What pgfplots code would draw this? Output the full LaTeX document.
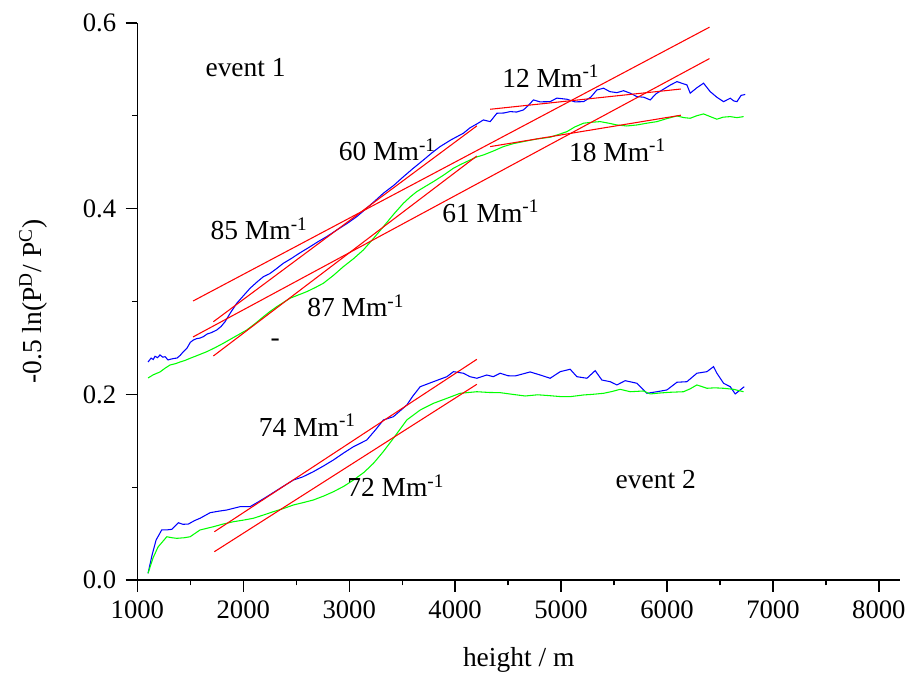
\documentclass[border=0pt]{standalone}
\usepackage{fontspec}
\setmainfont{Liberation Serif}
\usepackage{pgfplots}
\pgfplotsset{compat=1.18}
\definecolor{cblue}{RGB}{0,0,255}
\definecolor{cgreen}{RGB}{0,255,0}
\definecolor{cred}{RGB}{255,0,0}
\begin{document}
\begin{tikzpicture}
\begin{axis}[
  scale only axis,
  width=286.0pt, height=208.9pt,
  xmin=1000, xmax=8200, ymin=0, ymax=0.6,
  axis x line*=bottom, axis y line*=left,
  axis line style={line width=0.5pt},
  every tick/.style={black, line width=0.5pt},
  tick align=outside,
  major tick length=4.4pt, minor tick length=2pt,
  xtick={1000,2000,...,8000}, ytick={0,0.2,0.4,0.6},
  minor x tick num=1, minor y tick num=1,
  /pgf/number format/assume math mode=true,
  x tick label style={/pgf/number format/1000 sep={}},
  y tick label style={/pgf/number format/fixed, /pgf/number format/precision=1, /pgf/number format/fixed zerofill},
  tick label style={font=\fontsize{10}{12}\selectfont},
  label style={font=\fontsize{10.3}{12}\selectfont},
  xlabel={height / m},
  ylabel={-0.5 ln(P\textsuperscript{D}/ P\textsuperscript{C})},
  xlabel style={at={(axis description cs:0.5,-0.1436)}, anchor=center},
  ylabel style={at={(axis description cs:-0.1364,0.5)}, anchor=center},
  clip=false,
  every axis plot/.append style={line width=0.4pt},
]
% event 1 blue
\addplot[cblue] coordinates {
(1101,0.2348) (1130,0.2390) (1150,0.2375) (1167,0.2410) (1190,0.2395) (1214,0.2424)
(1240,0.2400) (1262,0.2405) (1290,0.2370) (1309,0.2377) (1340,0.2385) (1375,0.2391)
(1405,0.2420) (1434,0.2459) (1470,0.2500) (1500,0.2560) (1529,0.2585) (1560,0.2600)
(1590,0.2605) (1623,0.2621) (1660,0.2650) (1700,0.2665) (1750,0.2693) (1790,0.2730)
(1828,0.2782) (1880,0.2880) (1939,0.2981) (2000,0.3060) (2064,0.3142) (2130,0.3210)
(2190,0.3267) (2250,0.3300) (2310,0.3350) (2379,0.3412) (2450,0.3460) (2530,0.3520)
(2631,0.3590) (2700,0.3640) (2790,0.3700) (2883,0.3770) (2980,0.3840) (3072,0.3914)
(3150,0.3990) (3240,0.4080) (3323,0.4166) (3420,0.4250) (3512,0.4344) (3600,0.4430)
(3701,0.4524) (3780,0.4600) (3858,0.4668) (3960,0.4740) (4078,0.4812) (4140,0.4870)
(4205,0.4912) (4267,0.4955) (4331,0.4937) (4394,0.5027) (4460,0.5030) (4520,0.5045)
(4580,0.5040) (4645,0.5063) (4690,0.5110) (4739,0.5171) (4800,0.5150) (4897,0.5152)
(4960,0.5190) (5055,0.5178) (5130,0.5150) (5212,0.5152) (5280,0.5200) (5338,0.5278)
(5401,0.5297) (5460,0.5260) (5527,0.5249) (5590,0.5270) (5653,0.5243) (5716,0.5206)
(5780,0.5200) (5841,0.5171) (5900,0.5240) (5967,0.5286) (6030,0.5330) (6094,0.5368)
(6140,0.5350) (6188,0.5332) (6219,0.5243) (6280,0.5300) (6345,0.5351) (6380,0.5300)
(6408,0.5260) (6470,0.5200) (6534,0.5152) (6597,0.5189) (6630,0.5160) (6660,0.5152)
(6700,0.5220) (6723,0.5225) (6738,0.5230)
};
% event 1 green
\addplot[cgreen] coordinates {
(1101,0.2176) (1150,0.2210) (1214,0.2241) (1260,0.2280) (1309,0.2316) (1360,0.2330)
(1403,0.2348) (1450,0.2365) (1498,0.2388) (1570,0.2420) (1655,0.2459) (1730,0.2500)
(1812,0.2550) (1920,0.2620) (2033,0.2693) (2110,0.2760) (2190,0.2836) (2250,0.2890)
(2316,0.2944) (2380,0.2990) (2442,0.3035) (2520,0.3070) (2600,0.3106) (2680,0.3150)
(2756,0.3196) (2850,0.3280) (2945,0.3375) (3040,0.3460) (3134,0.3555) (3230,0.3680)
(3323,0.3806) (3420,0.3940) (3512,0.4058) (3580,0.4130) (3638,0.4183) (3720,0.4240)
(3795,0.4291) (3890,0.4360) (3984,0.4435) (4060,0.4480) (4142,0.4524) (4200,0.4555)
(4267,0.4578) (4360,0.4620) (4456,0.4668) (4550,0.4700) (4645,0.4722) (4770,0.4750)
(4897,0.4769) (4980,0.4800) (5055,0.4829) (5130,0.4880) (5212,0.4920) (5290,0.4930)
(5369,0.4937) (5450,0.4920) (5527,0.4901) (5620,0.4890) (5716,0.4901) (5810,0.4920)
(5905,0.4937) (6000,0.4970) (6094,0.4998) (6160,0.4980) (6219,0.4973) (6280,0.5000)
(6345,0.5020) (6410,0.4990) (6471,0.4963) (6530,0.4985) (6597,0.4991) (6660,0.4980)
(6723,0.4991)
};
% event 2 blue
\addplot[cblue] coordinates {
(1101,0.0072) (1139,0.0269) (1177,0.0431) (1230,0.0539) (1280,0.0540) (1325,0.0546)
(1387,0.0617) (1430,0.0600) (1482,0.0603) (1540,0.0640) (1592,0.0665) (1687,0.0725)
(1760,0.0740) (1844,0.0754) (1900,0.0770) (1970,0.0790) (2064,0.0790) (2140,0.0840)
(2222,0.0897) (2348,0.0988) (2473,0.1077) (2560,0.1110) (2662,0.1167) (2760,0.1230)
(2851,0.1293) (2950,0.1370) (3040,0.1436) (3166,0.1508) (3250,0.1620) (3323,0.1724)
(3417,0.1759) (3544,0.1885) (3600,0.1980) (3670,0.2082) (3795,0.2136) (3922,0.2190)
(3984,0.2244) (4078,0.2227) (4140,0.2190) (4205,0.2173) (4299,0.2208) (4360,0.2190)
(4425,0.2227) (4500,0.2200) (4567,0.2198) (4640,0.2220) (4708,0.2241) (4803,0.2208)
(4897,0.2173) (4992,0.2244) (5086,0.2270) (5149,0.2190) (5244,0.2173) (5322,0.2255)
(5385,0.2154) (5464,0.2136) (5527,0.2101) (5605,0.2147) (5716,0.2119) (5810,0.2011)
(5905,0.2028) (5999,0.2047) (6094,0.2130) (6188,0.2136) (6282,0.2227) (6377,0.2244)
(6439,0.2298) (6471,0.2227) (6534,0.2119) (6597,0.2082) (6644,0.2004) (6691,0.2047)
(6729,0.2082)
};
% event 2 green
\addplot[cgreen] coordinates {
(1101,0.0072) (1148,0.0237) (1195,0.0355) (1278,0.0466) (1330,0.0455) (1372,0.0449)
(1440,0.0455) (1498,0.0466) (1592,0.0539) (1718,0.0574) (1800,0.0600) (1907,0.0628)
(2000,0.0645) (2095,0.0665) (2190,0.0700) (2284,0.0736) (2380,0.0770) (2473,0.0808)
(2570,0.0835) (2662,0.0862) (2760,0.0905) (2851,0.0951) (2950,0.1010) (3040,0.1077)
(3140,0.1160) (3229,0.1257) (3320,0.1380) (3417,0.1526) (3544,0.1724) (3670,0.1831)
(3795,0.1903) (3922,0.1957) (4047,0.2011) (4205,0.2028) (4320,0.2020) (4425,0.2018)
(4540,0.2000) (4661,0.1982) (4780,0.1995) (4897,0.1985) (5000,0.1975) (5086,0.1975)
(5212,0.1993) (5300,0.2000) (5401,0.2011) (5480,0.2030) (5558,0.2054) (5653,0.2028)
(5778,0.2036) (5841,0.2004) (5940,0.2015) (6030,0.2022) (6156,0.2028) (6220,0.2060)
(6282,0.2101) (6377,0.2065) (6450,0.2070) (6534,0.2065) (6628,0.2054) (6723,0.2028)
};
% fitted lines
\addplot[cred] coordinates {(1526,0.3005) (6401,0.5954)};
\addplot[cred] coordinates {(1526,0.2618) (6401,0.5616)};
\addplot[cred] coordinates {(1718,0.2782) (4205,0.4891)};
\addplot[cred] coordinates {(1718,0.2413) (4205,0.4567)};
\addplot[cred] coordinates {(4331,0.5070) (6131,0.5288)};
\addplot[cred] coordinates {(4331,0.4668) (6131,0.5006)};
\addplot[cred] coordinates {(1727,0.0520) (4205,0.2377)};
\addplot[cred] coordinates {(1727,0.0305) (4205,0.2108)};
% labels
\begin{scope}[every node/.style={anchor=base west, inner sep=0pt, font=\fontsize{10.3}{12}\selectfont}]
\node at (axis cs:1639,0.5422) {event 1};
\node at (axis cs:4441,0.5307) {12 Mm\textsuperscript{-1}};
\node at (axis cs:2898,0.4514) {60 Mm\textsuperscript{-1}};
\node at (axis cs:5070,0.4506) {18 Mm\textsuperscript{-1}};
\node at (axis cs:1687,0.3663) {85 Mm\textsuperscript{-1}};
\node at (axis cs:3874,0.3849) {61 Mm\textsuperscript{-1}};
\node at (axis cs:2600,0.2836) {87 Mm\textsuperscript{-1}};
\node at (axis cs:2253,0.2510) {-};
\node at (axis cs:2143,0.1551) {74 Mm\textsuperscript{-1}};
\node at (axis cs:2977,0.0897) {72 Mm\textsuperscript{-1}};
\node at (axis cs:5511,0.0988) {event 2};
\end{scope}
\coordinate (ll) at (rel axis cs:0,0);
\coordinate (ur) at (rel axis cs:1,1);
\end{axis}
\pgfresetboundingbox
\path[use as bounding box] ([shift={(-51.5pt,-34.5pt)}]ll) rectangle ([shift={(2.6pt,8.6pt)}]ur);
\end{tikzpicture}
\end{document}
